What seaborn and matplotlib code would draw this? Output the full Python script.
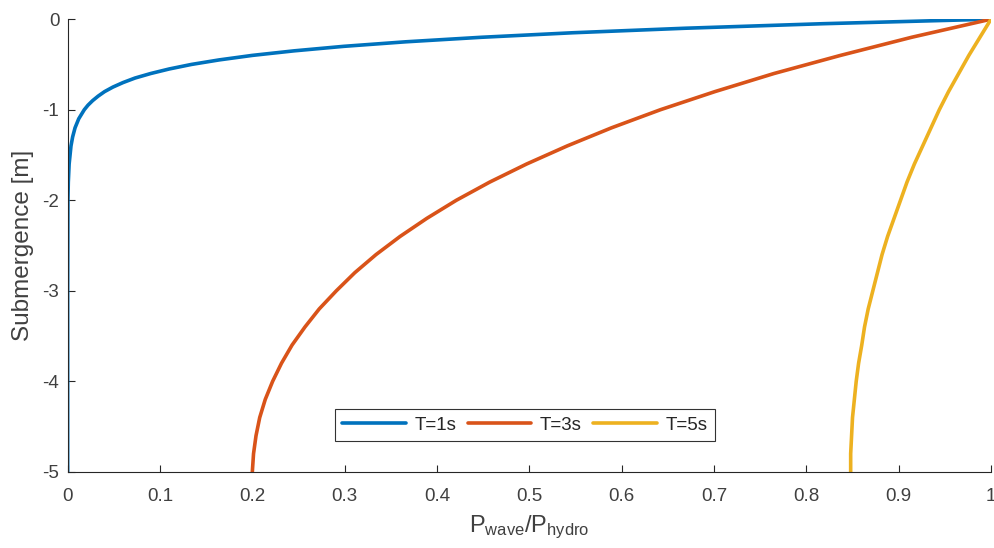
import seaborn as sns
import matplotlib.pyplot as plt
import pandas as pd

# T=1s: decays fast, so it was read on a finer depth grid near the surface
depth_t1 = [0, -0.05, -0.1, -0.15, -0.2, -0.25, -0.3, -0.35, -0.4, -0.45, -0.5, -0.55, -0.6,
            -0.65, -0.7, -0.75, -0.8, -0.85, -0.9, -0.95, -1.0, -1.1, -1.2, -1.3, -1.4,
            -1.6, -1.8, -2.0, -3.0, -4.0, -5.0]
t1 = [1.0, 0.818, 0.669, 0.547, 0.448, 0.366, 0.299, 0.245, 0.200, 0.164, 0.134, 0.110, 0.090,
      0.073, 0.060, 0.049, 0.040, 0.033, 0.027, 0.022, 0.018, 0.012, 0.008, 0.0054, 0.0036,
      0.0016, 0.0007, 0.0003, 0.0, 0.0, 0.0]

# T=3s and T=5s: read every 0.2 m
depth = [0, -0.2, -0.4, -0.6, -0.8, -1.0, -1.2, -1.4, -1.6, -1.8, -2.0, -2.2, -2.4,
         -2.6, -2.8, -3.0, -3.2, -3.4, -3.6, -3.8, -4.0, -4.2, -4.4, -4.6, -4.8, -5.0]
t3 = [1.0, 0.914, 0.837, 0.765, 0.701, 0.642, 0.589, 0.541, 0.497, 0.457, 0.421, 0.389, 0.360,
      0.334, 0.311, 0.291, 0.2725, 0.257, 0.243, 0.2316, 0.222, 0.214, 0.208, 0.204, 0.2013, 0.200]
t5 = [1.0, 0.988, 0.976, 0.965, 0.954, 0.944, 0.935, 0.926, 0.917, 0.909, 0.902, 0.895, 0.888,
      0.882, 0.877, 0.872, 0.867, 0.863, 0.860, 0.8566, 0.854, 0.852, 0.850, 0.849, 0.848, 0.848]

labels = ["T=1s", "T=3s", "T=5s"]
colors = ["#0072BD", "#D95319", "#EDB120"]
x_ticks = [0, 0.1, 0.2, 0.3, 0.4, 0.5, 0.6, 0.7, 0.8, 0.9, 1]
y_ticks = [-5, -4, -3, -2, -1, 0]

# long-form table for seaborn
df = pd.concat([
    pd.DataFrame({"ratio": t1, "depth": depth_t1, "T": labels[0]}),
    pd.DataFrame({"ratio": t3, "depth": depth, "T": labels[1]}),
    pd.DataFrame({"ratio": t5, "depth": depth, "T": labels[2]}),
], ignore_index=True)

sns.set_style("ticks")
plt.rcParams['font.family'] = ['Liberation Sans', 'DejaVu Sans']
plt.rcParams['mathtext.default'] = 'regular'

fig = plt.figure(figsize=(9.95, 5.48), dpi=100)
ax = fig.add_axes([0.068, 0.139, 0.928, 0.826])

sns.lineplot(data=df, x="ratio", y="depth", hue="T", palette=colors,
             sort=False, estimator=None, linewidth=2.6, ax=ax)

ax.set_xlim(0, 1)
ax.set_ylim(-5, 0)
ax.set_xticks(x_ticks)
ax.set_xticklabels([f"{v:g}" for v in x_ticks])
ax.set_yticks(y_ticks)
ax.set_yticklabels([f"{v:g}" for v in y_ticks])
ax.tick_params(direction="in", length=5, width=0.8, colors="#262626",
               labelsize=13.5, labelcolor="#404040")
ax.tick_params(axis="x", pad=11.5)
ax.tick_params(axis="y", pad=6)
for s in ["left", "bottom"]:
    ax.spines[s].set_color("#262626")
    ax.spines[s].set_linewidth(0.8)
sns.despine(ax=ax)

ax.set_xlabel(r"P$_{wave}$/P$_{hydro}$", fontsize=17, color="#404040", labelpad=6)
ax.set_ylabel("Submergence [m]", fontsize=17.5, color="#404040", labelpad=6)

leg = ax.legend(loc="center", bbox_to_anchor=(0.495, 0.103), ncol=3, fontsize=13.5,
                frameon=True, fancybox=False, edgecolor="black", handlelength=3.4,
                columnspacing=0.6, handletextpad=0.45, borderpad=0.4)
leg.get_frame().set_linewidth(0.8)
for t in leg.get_texts():
    t.set_color("#262626")

fig.savefig("out.png", dpi=100)
